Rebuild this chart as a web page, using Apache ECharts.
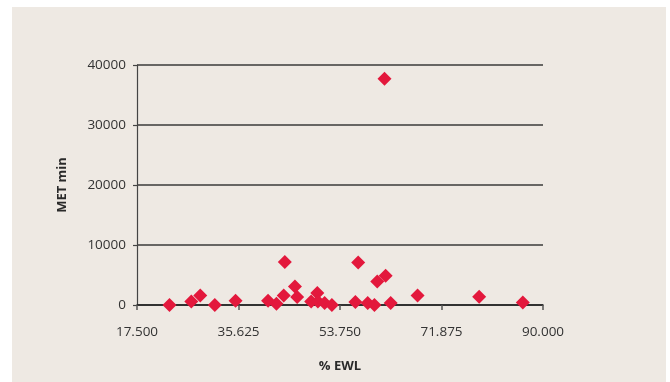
<!DOCTYPE html>
<html>
<head>
<meta charset="utf-8">
<script src="https://cdn.jsdelivr.net/npm/echarts@6/dist/echarts.min.js"></script>
<style>
html,body{margin:0;padding:0;background:#ffffff;}
#bg{position:absolute;left:12px;top:7px;width:654px;height:375px;background:#eee9e3;}
#chart{position:absolute;left:0;top:0;width:670px;height:382px;}
</style>
</head>
<body>
<div id="bg"></div>
<div id="chart"></div>
<script>
// % EWL values
const ewl = [23.3, 27.2, 28.8, 31.4, 35.1, 40.9, 42.4, 43.9, 43.7, 45.7, 46.1, 48.6, 49.7, 49.8, 51.0, 52.3, 56.5, 57.0, 58.7, 59.9, 60.4, 61.9, 61.7, 62.8, 67.6, 78.6, 86.4];
// MET min values
const met = [0, 600, 1600, 0, 720, 720, 200, 7170, 1600, 3100, 1330, 600, 2000, 600, 330, 0, 500, 7100, 330, 0, 3930, 4880, 37720, 330, 1600, 1380, 430];
const xTicks = [17.5, 35.625, 53.75, 71.875, 90];
const yTicks = [0, 10000, 20000, 30000, 40000];

const points = ewl.map((x, i) => [x, met[i]]);
const chart = echarts.init(document.getElementById('chart'), null, {renderer: 'canvas'});
const font = '"Open Sans", sans-serif';
chart.setOption({
  animation: false,
  backgroundColor: 'transparent',
  grid: {left: 137, right: 127, top: 65, bottom: 77, containLabel: false},
  xAxis: {
    type: 'value', min: 17.5, max: 90,
    name: '% EWL', nameLocation: 'middle', nameGap: 55,
    nameTextStyle: {fontFamily: font, fontWeight: 'bold', fontSize: 13, color: '#2a2a2a'},
    axisLine: {show: true, onZero: false, lineStyle: {color: '#222', width: 1.5}},
    axisTick: {show: true, length: 5, customValues: xTicks, lineStyle: {color: '#555', width: 1.5}},
    axisLabel: {customValues: xTicks, margin: 20, fontFamily: font, fontSize: 13.5, color: '#333',
      formatter: v => v.toFixed(3)},
    splitLine: {show: false}
  },
  yAxis: {
    type: 'value', min: 0, max: 40000, interval: 10000,
    name: 'MET min', nameLocation: 'middle', nameGap: 68, nameRotate: 90,
    nameTextStyle: {fontFamily: font, fontWeight: 'bold', fontSize: 13, color: '#2a2a2a'},
    axisLine: {show: true, lineStyle: {color: '#444', width: 1.2}},
    axisTick: {show: true, length: 4, lineStyle: {color: '#444', width: 1.2}},
    axisLabel: {margin: 11, fontFamily: font, fontSize: 13.5, color: '#333',
      formatter: v => yTicks.includes(v) ? String(v) : ''},
    splitLine: {show: true, lineStyle: {color: '#3a3a3a', width: 1.5}}
  },
  series: [{
    type: 'scatter',
    data: points,
    symbol: 'diamond',
    symbolSize: 14,
    itemStyle: {color: '#e3183c', opacity: 1},
    clip: false
  }]
});
</script>
</body>
</html>
